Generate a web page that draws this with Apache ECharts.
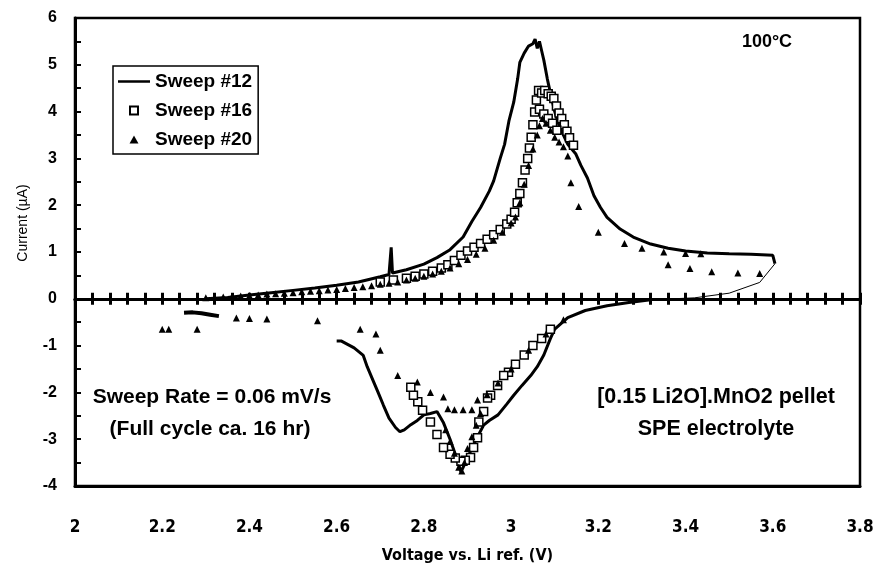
<!DOCTYPE html>
<html>
<head>
<meta charset="utf-8">
<script src="https://cdn.jsdelivr.net/npm/echarts@6/dist/echarts.min.js"></script>
<style>
html, body { margin: 0; padding: 0; background: #fff; }
#main { width: 877px; height: 569px; }
</style>
</head>
<body>
<div id="main"></div>
<script>
// Sweep #12 - solid line, anodic branch up to 3.6 V
var sweep12 = [
  [2.30,0.00],[2.35,0.03],[2.40,0.08],[2.45,0.13],[2.50,0.18],[2.55,0.23],[2.60,0.29],[2.65,0.36],
  [2.70,0.47],[2.72,0.52],[2.725,1.10],[2.728,0.55],[2.76,0.62],[2.80,0.74],[2.83,0.88],[2.86,1.05],
  [2.89,1.32],[2.91,1.65],[2.93,1.95],[2.95,2.30],[2.96,2.52],[2.975,3.00],[2.985,3.30],[2.995,3.80],
  [3.006,4.20],[3.015,4.70],[3.02,5.05],[3.03,5.25],[3.04,5.40],[3.05,5.45],[3.055,5.55],[3.06,5.35],
  [3.065,5.50],[3.07,5.30],[3.075,5.10],[3.083,4.70],[3.09,4.40],[3.10,4.00],[3.11,3.70],[3.12,3.50],
  [3.13,3.30],[3.148,3.10],[3.16,2.85],[3.175,2.58],[3.19,2.20],[3.205,1.95],[3.22,1.74],[3.25,1.49],
  [3.28,1.32],[3.32,1.17],[3.36,1.08],[3.40,1.02],[3.45,0.98],[3.50,0.96],[3.55,0.95],[3.60,0.93],
  [3.605,0.75]
];
// faint return from 3.6 V
var sweep12Return = [[3.605,0.75],[3.57,0.35],[3.50,0.12],[3.42,0.02],[3.32,-0.02]];
// cathodic branch
var sweep12Cath = [
  [3.32,-0.02],[3.27,-0.08],[3.22,-0.15],[3.17,-0.25],[3.13,-0.40],[3.10,-0.65],[3.09,-0.85],[3.075,-1.20],
  [3.06,-1.45],[3.045,-1.64],[3.025,-1.85],[3.006,-2.06],[2.99,-2.25],[2.97,-2.48],[2.95,-2.60],[2.937,-2.70],
  [2.92,-3.00],[2.905,-3.30],[2.89,-3.60],[2.885,-3.70],[2.875,-3.40],[2.86,-3.00],[2.845,-2.65],[2.83,-2.41],
  [2.815,-2.45],[2.80,-2.48],[2.785,-2.60],[2.77,-2.69],[2.755,-2.80],[2.745,-2.84],[2.735,-2.75],[2.72,-2.55],
  [2.707,-2.27],[2.695,-2.00],[2.685,-1.78],[2.67,-1.45],[2.661,-1.21],[2.64,-1.05],[2.61,-0.90],[2.60,-0.90]
];
// short piece near 2.3 V at the end of the cathodic sweep
var sweep12Low = [[2.33,-0.37],[2.31,-0.34],[2.29,-0.31],[2.27,-0.29],[2.25,-0.30]];

// Sweep #16 - open squares
var sweep16 = [
  [2.70,0.36],[2.73,0.40],[2.76,0.44],[2.78,0.48],[2.80,0.53],[2.82,0.59],[2.84,0.66],[2.855,0.73],
  [2.87,0.82],[2.885,0.93],[2.90,1.02],[2.915,1.10],[2.93,1.18],[2.945,1.27],[2.96,1.37],[2.975,1.48],
  [2.99,1.60],[3.00,1.70],[3.008,1.85],[3.014,2.05],[3.02,2.25],[3.026,2.48],[3.032,2.75],[3.038,3.00],
  [3.042,3.22],[3.046,3.45],[3.05,3.72],[3.054,3.99],[3.058,4.25],[3.063,4.45],[3.07,4.40],[3.077,4.45],
  [3.085,4.38],[3.092,4.33],[3.098,4.28],[3.104,4.12],[3.11,3.97],[3.116,3.85],[3.122,3.72],[3.128,3.58],
  [3.134,3.44],[3.143,3.28],[3.065,4.05],[3.075,3.95],[3.085,3.85],[3.095,3.75],[3.105,3.60],
  [3.09,-0.65],[3.07,-0.85],[3.05,-1.00],[3.03,-1.20],[3.01,-1.40],[2.994,-1.57],[2.983,-1.64],[2.969,-1.85],
  [2.953,-2.06],[2.946,-2.12],[2.937,-2.41],[2.926,-2.63],[2.923,-2.97],[2.914,-3.18],[2.907,-3.39],[2.895,-3.45],
  [2.885,-3.47],[2.872,-3.40],[2.86,-3.32],[2.845,-3.18],[2.83,-2.90],[2.815,-2.63],[2.797,-2.38],[2.786,-2.20],
  [2.776,-2.06],[2.77,-1.89]
];

// Sweep #20 - filled triangles
var sweep20 = [
  [2.30,0.02],[2.32,0.03],[2.34,0.04],[2.36,0.05],[2.38,0.06],[2.40,0.07],[2.42,0.08],[2.44,0.10],
  [2.46,0.11],[2.48,0.12],[2.50,0.13],[2.52,0.15],[2.54,0.16],[2.56,0.17],[2.58,0.19],[2.60,0.20],
  [2.62,0.22],[2.64,0.24],[2.66,0.26],[2.68,0.28],[2.70,0.31],[2.72,0.33],[2.74,0.36],[2.76,0.40],
  [2.78,0.44],[2.80,0.48],[2.82,0.53],[2.84,0.59],[2.86,0.66],[2.88,0.75],[2.90,0.84],[2.92,0.95],
  [2.94,1.08],[2.96,1.25],[2.98,1.42],[3.00,1.62],[3.01,1.75],[3.02,2.05],[3.03,2.45],[3.04,2.85],
  [3.05,3.20],[3.06,3.50],[3.065,3.70],[3.072,3.85],[3.08,3.75],[3.09,3.60],[3.10,3.45],[3.11,3.35],
  [3.12,3.25],[3.13,3.05],[3.137,2.48],[3.155,1.97],[3.20,1.42],[3.26,1.18],[3.30,1.08],[3.35,1.00],
  [3.40,0.97],[3.435,0.96],[3.36,0.73],[3.41,0.65],[3.46,0.58],[3.52,0.55],[3.57,0.54],
  [3.12,-0.45],[3.08,-0.75],[3.04,-1.10],[3.00,-1.50],[2.97,-1.80],[2.945,-2.05],[2.923,-2.16],[2.91,-2.37],
  [2.89,-2.37],[2.87,-2.37],[2.855,-2.35],[2.845,-2.10],[2.815,-2.00],[2.785,-1.78],[2.74,-1.64],[2.70,-1.10],
  [2.93,-2.45],[2.92,-2.70],[2.91,-2.95],[2.90,-3.20],[2.893,-3.50],[2.887,-3.68],[2.88,-3.60],[2.87,-3.30],
  [2.86,-3.05],[2.85,-2.80],[2.69,-0.75],[2.654,-0.65],[2.556,-0.47],[2.44,-0.43],[2.40,-0.42],[2.37,-0.41],
  [2.20,-0.65],[2.215,-0.65],[2.28,-0.65]
];

var seriesNames = ['Sweep #12', 'Sweep #16', 'Sweep #20'];
var xMin = 2, xMax = 3.8, xStep = 0.2, zeroTickStep = 0.04;
var yMin = -4, yMax = 6, yStep = 1;

var boldFont = "'Liberation Sans', Arial, sans-serif";
var narrowFont = "'DejaVu Sans Condensed', 'Liberation Sans', Arial, sans-serif";

var chart = echarts.init(document.getElementById('main'));

// the zero line carries ticks on both sides: two axes sitting on y=0
function zeroAxis(inside) {
  return {
    type: 'value', min: xMin, max: xMax, interval: zeroTickStep,
    axisLine: { onZero: true, onZeroAxisIndex: 0, lineStyle: { color: '#000', width: 3 } },
    axisTick: { show: true, inside: inside, length: 6, lineStyle: { color: '#000', width: 3 } },
    axisLabel: { show: false },
    splitLine: { show: false }
  };
}

function sweep12Series(data, width) {
  return {
    name: seriesNames[0], type: 'line', symbol: 'none', z: 2, data: data,
    lineStyle: { color: '#000', width: width }, itemStyle: { color: '#000' }
  };
}

chart.setOption({
  animation: false,
  backgroundColor: '#fff',
  grid: { left: 75, right: 17, top: 18, bottom: 77, show: true, borderColor: '#000', borderWidth: 2.5 },
  legend: {
    orient: 'vertical', left: 113, top: 66,
    padding: [6, 6, 5, 5], itemGap: 10, itemWidth: 32, itemHeight: 8,
    borderColor: '#000', borderWidth: 1.5, backgroundColor: '#fff',
    selectedMode: false, symbolKeepAspect: true,
    textStyle: { fontSize: 19, fontWeight: 'bold', color: '#000', fontFamily: boldFont },
    data: [
      { name: seriesNames[0], icon: 'path://M0,0H32V2.5H0Z' },
      { name: seriesNames[1], icon: 'path://M0,0H10V10H0Z' },
      { name: seriesNames[2], icon: 'path://M5,0L10,9L0,9Z' }
    ]
  },
  xAxis: [
    {
      type: 'value', min: xMin, max: xMax, interval: xStep, position: 'bottom',
      name: 'Voltage vs. Li ref. (V)', nameLocation: 'middle', nameGap: 62,
      nameTextStyle: { fontSize: 16, fontWeight: 'bold', color: '#000', fontFamily: narrowFont },
      axisLine: { onZero: false, lineStyle: { color: '#000', width: 3 } },
      axisTick: { show: false },
      axisLabel: { margin: 33, fontSize: 17, fontWeight: 'bold', color: '#000', fontFamily: narrowFont },
      splitLine: { show: false }
    },
    zeroAxis(true),
    zeroAxis(false)
  ],
  yAxis: {
    type: 'value', min: yMin, max: yMax, interval: yStep,
    axisLine: { onZero: false, lineStyle: { color: '#000', width: 3 } },
    axisTick: { show: true, inside: true, length: 6, lineStyle: { color: '#000', width: 2 } },
    minorTick: { show: true, splitNumber: 2, length: 6, lineStyle: { color: '#000', width: 2 } },
    axisLabel: { margin: 18, fontSize: 16, fontWeight: 'bold', color: '#000', fontFamily: boldFont },
    splitLine: { show: false }
  },
  graphic: [
    { type: 'text', x: 23, y: 223, rotation: Math.PI / 2,
      style: { text: 'Current (µA)', font: '14px ' + boldFont, fill: '#000', textAlign: 'center', textVerticalAlign: 'middle' } },
    { type: 'text', x: 767, y: 42,
      style: { text: '100°C', font: 'bold 18px ' + boldFont, fill: '#000', textAlign: 'center', textVerticalAlign: 'middle' } },
    { type: 'text', x: 212, y: 397,
      style: { text: 'Sweep Rate = 0.06 mV/s', font: 'bold 21px ' + boldFont, fill: '#000', textAlign: 'center', textVerticalAlign: 'middle' } },
    { type: 'text', x: 210, y: 429,
      style: { text: '(Full cycle ca. 16 hr)', font: 'bold 21px ' + boldFont, fill: '#000', textAlign: 'center', textVerticalAlign: 'middle' } },
    { type: 'text', x: 716, y: 397,
      style: { text: '[0.15 Li2O].MnO2 pellet', font: 'bold 21.5px ' + boldFont, fill: '#000', textAlign: 'center', textVerticalAlign: 'middle' } },
    { type: 'text', x: 716, y: 429,
      style: { text: 'SPE electrolyte', font: 'bold 21.5px ' + boldFont, fill: '#000', textAlign: 'center', textVerticalAlign: 'middle' } }
  ],
  series: [
    sweep12Series(sweep12, 3),
    sweep12Series(sweep12Return, 1),
    sweep12Series(sweep12Cath, 3),
    sweep12Series(sweep12Low, 4),
    {
      name: seriesNames[1], type: 'scatter', symbol: 'rect', symbolSize: 8, z: 3,
      data: sweep16,
      itemStyle: { color: '#fff', borderColor: '#000', borderWidth: 1.5, opacity: 1 }
    },
    {
      name: seriesNames[2], type: 'scatter', symbol: 'triangle', symbolSize: 7, z: 4,
      data: sweep20,
      itemStyle: { color: '#000', opacity: 1 }
    }
  ]
});
</script>
</body>
</html>
